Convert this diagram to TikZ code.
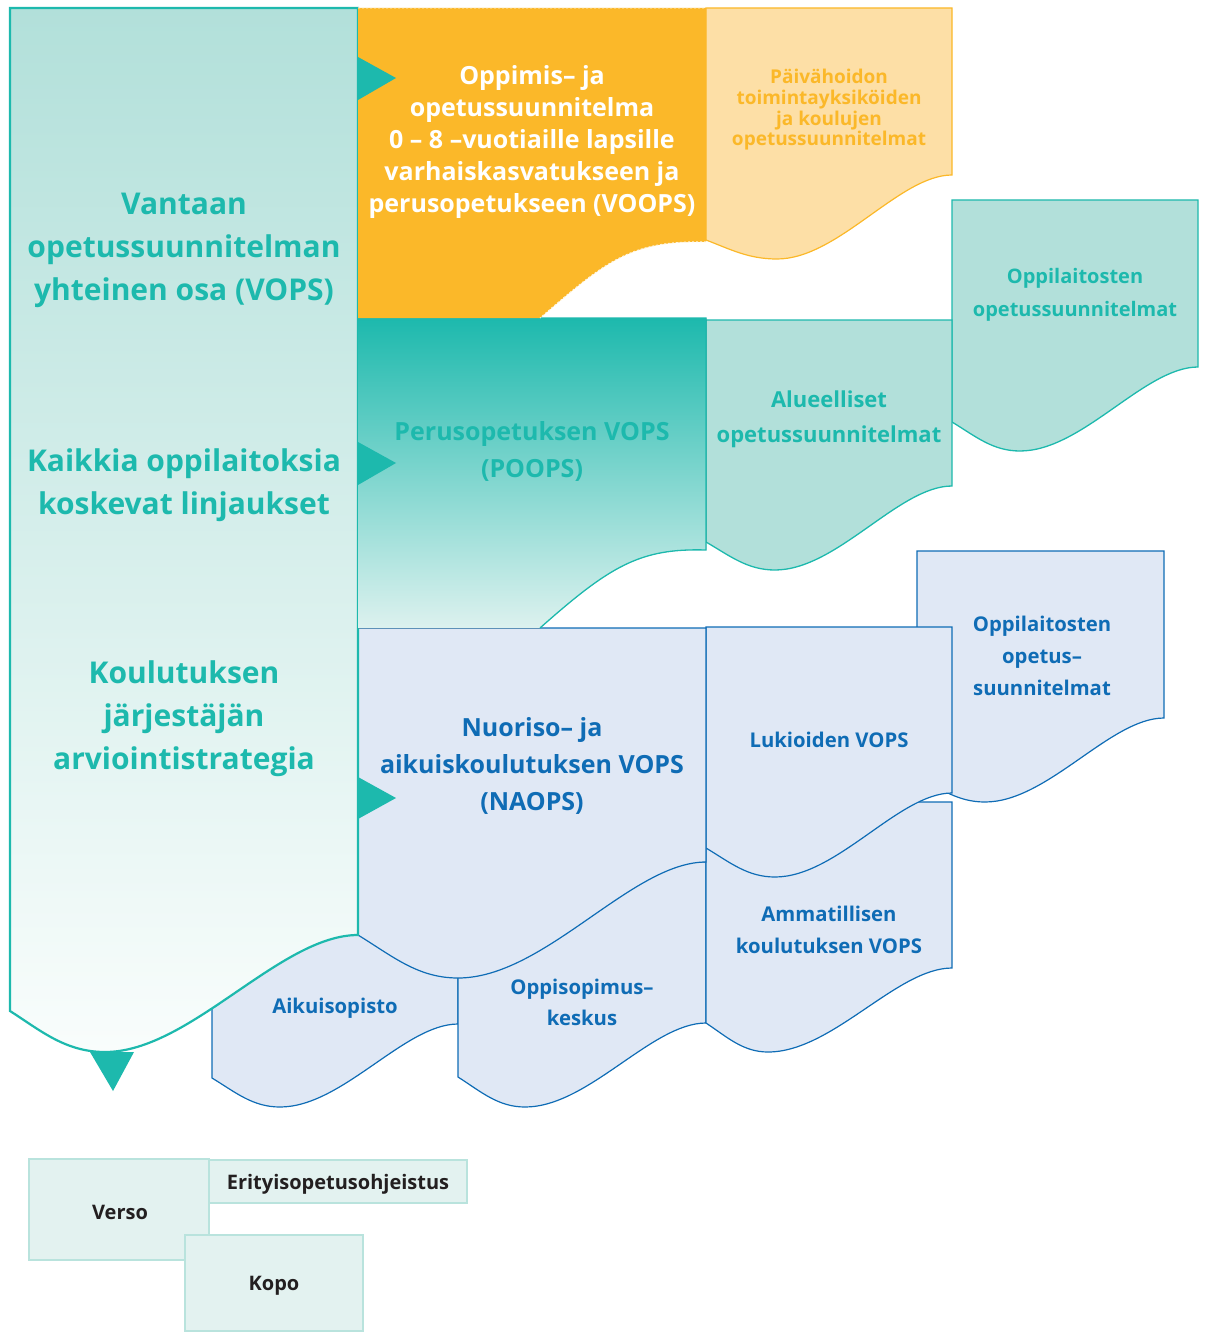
\documentclass[tikz,border=0pt]{standalone}
\usepackage{fontspec}
\setmainfont{Open Sans}
\definecolor{vteal}{HTML}{1DB9AD}
\definecolor{vteallight}{HTML}{B2E0DA}
\definecolor{vtealpale}{HTML}{F9FDFC}
\definecolor{vorange}{HTML}{FBB829}
\definecolor{vpeach}{HTML}{FDDFA6}
\definecolor{vblue}{HTML}{0F6CB5}
\definecolor{vbluelight}{HTML}{E0E8F5}
\definecolor{vlegend}{HTML}{E3F2F0}
\definecolor{vlegendline}{HTML}{B9E3DD}
\definecolor{vdark}{HTML}{231F20}
% #1 style, #2 xl, #3 ytop, #4 xr, #5 y right bottom, #6 y left bottom, #7 x trough, #8 y trough
\newcommand\docshape[8]{%
  \draw[#1] (#2,#3) -- (#4,#3) -- (#4,#5)
    .. controls ({#4-0.3*(#4-#7)},#5) and ({#7+0.35*(#4-#7)},#8) .. (#7,#8)
    .. controls ({#7-0.4*(#7-#2)},#8) and ({#2+0.35*(#7-#2)},{#6+0.5*(#8-#6)}) .. (#2,#6) -- cycle;}
\tikzset{
  tealbox/.style={fill=vteallight, draw=vteal, line width=1.3pt},
  bluebox/.style={fill=vbluelight, draw=vblue, line width=1.2pt},
  peachbox/.style={fill=vpeach, draw=vorange, line width=1.2pt},
  legendbox/.style={fill=vlegend, draw=vlegendline, line width=1.5pt},
  marker/.style={fill=vteal},
  bigtxt/.style={text=vteal, align=center, font={\bfseries\fontsize{30}{43}\selectfont}},
  midtxt/.style={align=center, font={\bfseries\fontsize{25}{37}\selectfont}},
  smalltxt/.style={align=center, font={\bfseries\fontsize{20.3}{32}\selectfont}},
  legtxt/.style={text=vdark, align=center, font={\bfseries\fontsize{20}{24}\selectfont}}
}
\begin{document}
\begin{tikzpicture}[x=1pt,y=-1pt]
\useasboundingbox (0,0) rectangle (1205,1332);

% back row of boxes
\docshape{peachbox}{706}{8}{952}{175}{240}{777}{259}
\docshape{tealbox}{952}{200}{1198}{367}{422}{1020}{451}
\docshape{tealbox}{706}{320}{952}{486}{542}{775}{570}
\docshape{bluebox}{212}{935}{458}{1024}{1078}{280}{1107}
\docshape{bluebox}{458}{862}{706}{1023}{1077}{525}{1107}
\docshape{bluebox}{706}{802}{952}{968}{1023}{768}{1052}
\docshape{bluebox}{917}{551}{1164}{718}{776}{985}{802}
\docshape{bluebox}{706}{627}{952}{793}{848}{775}{877}
% NAOPS
\docshape{bluebox}{358}{628}{706}{862}{935}{458}{978}

% main left shape
\draw[top color=vteallight, bottom color=vtealpale, draw=vteal, line width=2.2pt]
  (10,8) -- (358,8) -- (358,935)
  .. controls (280,935) and (190,1052) .. (105,1052)
  .. controls (65,1052) and (40,1030) .. (10,1011) -- cycle;

% POOPS
\fill[top color=vteal, bottom color=vtealpale!60!vteallight]
  (358,318) -- (706,318) -- (706,550)
  .. controls (640,548) and (610,566) .. (540,628) -- (358,628) -- cycle;
\draw[vteal, line width=1.3pt] (358,318) -- (706,318) -- (706,550)
  .. controls (640,548) and (610,566) .. (540,628);

% VOOPS
\fill[vorange] (358,8) -- (706,8) -- (706,242)
  .. controls (630,240) and (605,262) .. (540,318) -- (358,318) -- cycle;
\draw[white!85!vorange, line width=1pt, dash pattern=on 2pt off 2pt]
  (358,8) -- (706,8) (706,242) .. controls (630,240) and (605,262) .. (540,318);

% markers
\fill[marker] (358,57) -- (396,78) -- (358,100) -- cycle;
\fill[marker] (358,442) -- (396,463) -- (358,485) -- cycle;
\fill[marker] (358,777) -- (396,798) -- (358,819) -- cycle;
\fill[marker] (90,1052) -- (134,1052) -- (113,1091) -- cycle;

% texts
\node[bigtxt] (vops) at (184,250) {Vantaan\\opetussuunnitelman\\yhteinen osa (VOPS)};
\node[bigtxt] (linj) at (184,485) {Kaikkia oppilaitoksia\\koskevat linjaukset};
\node[bigtxt] (arvi) at (184,719) {Koulutuksen\\järjestäjän\\arviointistrategia};

\node[midtxt, text=white, font={\bfseries\fontsize{25}{32}\selectfont}] (voops) at (532,142)
  {Oppimis– ja\\opetussuunnitelma\\0 – 8 –vuotiaille lapsille\\varhaiskasvatukseen ja\\perusopetukseen (VOOPS)};
\node[midtxt, text=vteal] (poops) at (532,451) {Perusopetuksen VOPS\\(POOPS)};
\node[midtxt, text=vblue] (naops) at (532,766) {Nuoriso– ja\\aikuiskoulutuksen VOPS\\(NAOPS)};

\node[align=center, text=vorange, font={\bfseries\fontsize{19}{20.7}\selectfont}] (paiva) at (829,110)
  {Päivähoidon\\toimintayksiköiden\\ja koulujen\\opetussuunnitelmat};
\node[align=center, text=vteal, font={\bfseries\fontsize{22}{35}\selectfont}] (alue) at (829,419)
  {Alueelliset\\opetussuunnitelmat};
\node[smalltxt, text=vteal, font={\bfseries\fontsize{20}{33}\selectfont}] (opplt) at (1075,295)
  {Oppilaitosten\\opetussuunnitelmat};
\node[smalltxt, text=vblue] (opplb) at (1042,656) {Oppilaitosten\\opetus–\\suunnitelmat};
\node[smalltxt, text=vblue] (lukio) at (829,740) {Lukioiden VOPS};
\node[smalltxt, text=vblue] (ammat) at (829,930) {Ammatillisen\\koulutuksen VOPS};
\node[smalltxt, text=vblue] (aikui) at (335,1008) {Aikuisopisto};
\node[smalltxt, text=vblue, font={\bfseries\fontsize{20.3}{31}\selectfont}] (oppis) at (582,1002) {Oppisopimus–\\keskus};

% legend
\draw[legendbox] (29,1159) rectangle (209,1260);
\draw[legendbox] (209,1160) rectangle (467,1203);
\draw[legendbox] (185,1235) rectangle (363,1331);
\node[legtxt] (verso) at (120,1212) {Verso};
\node[legtxt] (erit) at (338,1184) {Erityisopetusohjeistus};
\node[legtxt] (kopo) at (274,1286) {Kopo};
\end{tikzpicture}
\end{document}
